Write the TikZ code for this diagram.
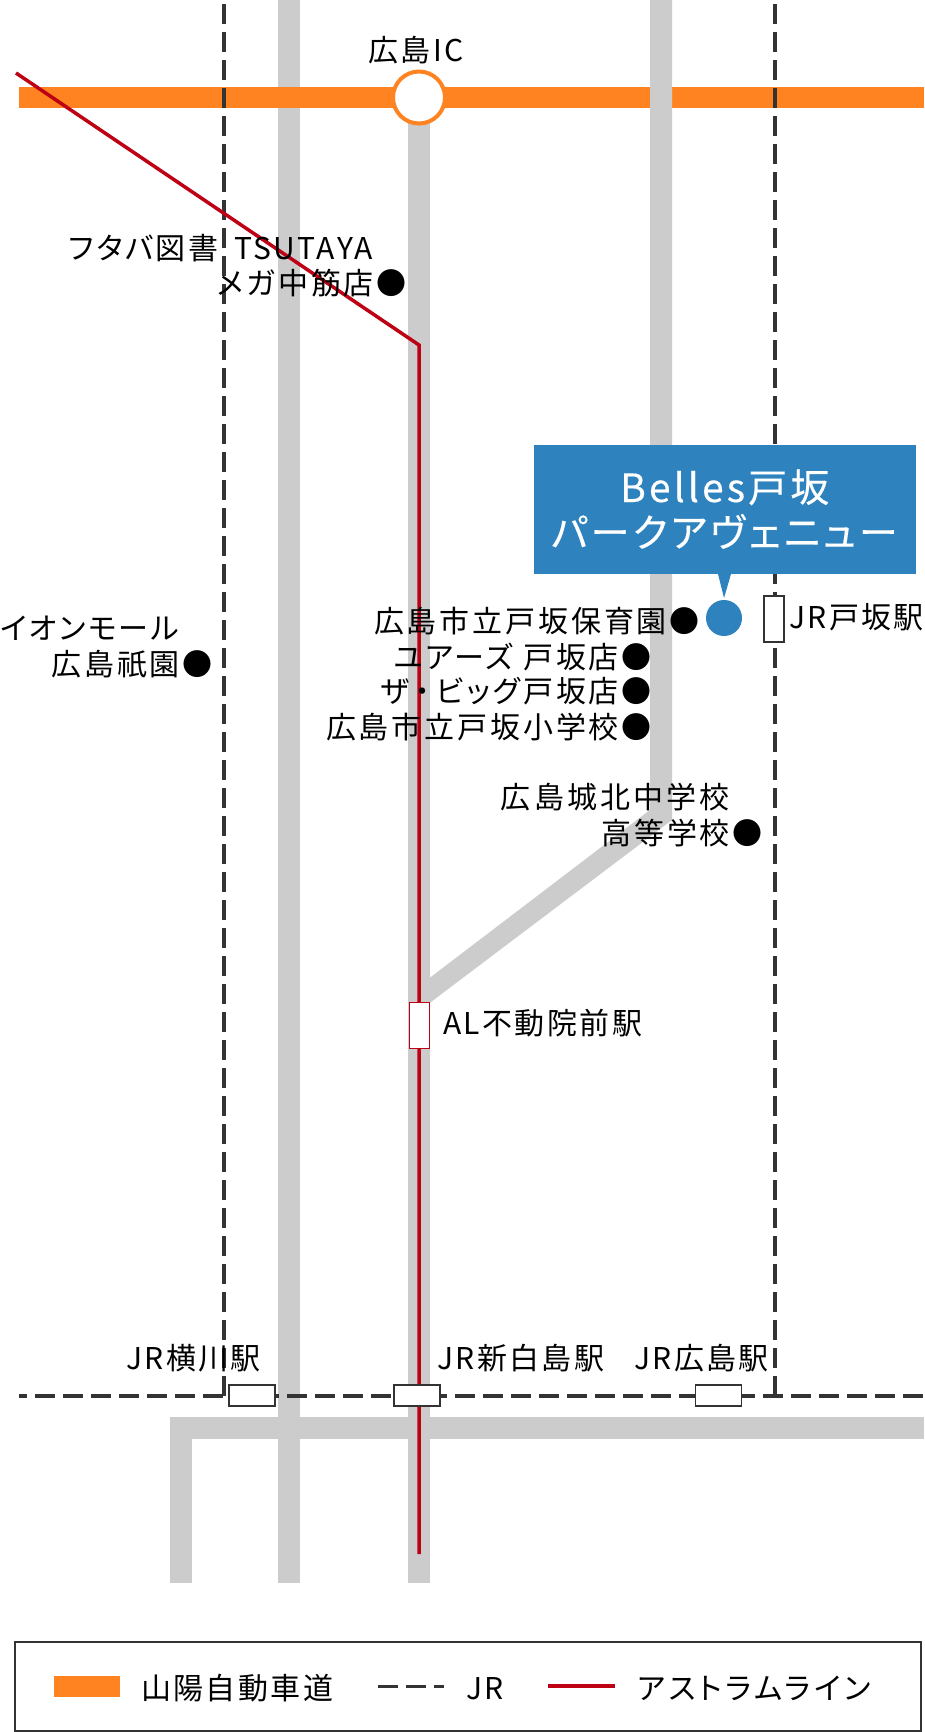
\documentclass[tikz,border=0pt]{standalone}
\usepackage{fontspec}
\setmainfont{Noto Sans CJK JP}
\newfontfamily\jp[LetterSpace=8,RawFeature=+palt]{Noto Sans CJK JP}
\newfontfamily\jpw[LetterSpace=9.5,RawFeature=+palt]{Noto Sans CJK JP}
\newfontfamily\jpv[LetterSpace=10.5,RawFeature=+palt]{Noto Sans CJK JP}
\newfontfamily\jpx[LetterSpace=12,RawFeature=+palt]{Noto Sans CJK JP}
\newfontfamily\jpb[LetterSpace=8,RawFeature=+palt,FakeBold=0.3]{Noto Sans CJK JP}
\definecolor{roadgrey}{HTML}{CCCCCC}
\definecolor{expy}{HTML}{FF8421}
\definecolor{astram}{HTML}{BE0015}
\definecolor{jrline}{HTML}{333333}
\definecolor{bluebox}{HTML}{2E82BE}
\tikzset{
  road/.style={draw=roadgrey,line width=22pt},
  jr/.style={draw=jrline,line width=3.2pt,dash pattern=on 20pt off 8pt,dash phase=24pt},
  jrh/.style={draw=jrline,line width=4.5pt,dash pattern=on 20pt off 8pt,dash phase=12pt},
  redline/.style={draw=astram,line width=3.5pt,line join=miter},
  lab/.style={inner sep=0pt,font=\jp\fontsize{30}{30}\selectfont,text=black},
  rlab/.style={lab,anchor=base east,font=\jpw\fontsize{30}{30}\selectfont},
  llab/.style={lab,anchor=base west},
  boxlab/.style={llab,text=white,font=\jpb\fontsize{39}{39}\selectfont},
  st/.style={draw=jrline,line width=1.2pt,fill=white,inner sep=0pt,minimum width=46pt,minimum height=21pt},
}
\begin{document}
\begin{tikzpicture}[x=1pt,y=-1pt]
\useasboundingbox (0,0) rectangle (924,1732);
% coordinates
\coordinate (v1t) at (289,0); \coordinate (v1b) at (289,1583);
\coordinate (v2t) at (419,97); \coordinate (v2b) at (419,1583);
\coordinate (hl) at (181,1583); \coordinate (hc) at (181,1427.5); \coordinate (hr) at (924,1427.5);
% grey under motorway
\draw[road] (v1t) -- (v1b);
\draw[road] (v2t) -- (v2b);
\draw[road,line join=miter] (hl) -- (hc) -- (hr);
% motorway
\coordinate (mw1) at (19,97.5); \coordinate (mw2) at (924,97.5);
\draw[draw=expy,line width=21pt] (mw1) -- (mw2);
% road over motorway, with its branch
\fill[roadgrey] (650,0) -- (672,0) -- (672,820) -- (419,1011) -- (419,986) -- (650,810) -- cycle;
% JR lines
\coordinate (j1t) at (224,0); \coordinate (j1b) at (224,1396);
\coordinate (j2t) at (775,0); \coordinate (j2b) at (775,1396);
\coordinate (jl) at (19,1396); \coordinate (jr) at (924,1396);
\draw[jr] (j1t) -- (j1b);
\draw[jr] (j2t) -- (j2b);
\draw[jrh] (jl) -- (jr);
% Astram
\coordinate (a1) at (16,73); \coordinate (a2) at (419,345); \coordinate (a3) at (419,1554);
\draw[redline] (a1) -- (a2) -- (a3);
% IC
\node[circle,draw=expy,line width=4pt,fill=white,minimum size=52pt,inner sep=0pt] (ic) at (419,97.5) {};
% stations
\node[st] (s1) at (252,1395.5) {};
\node[st] (s2) at (417,1395.5) {};
\node[st] (s3) at (718.5,1395.5) {};
\node[st,minimum width=20pt,minimum height=46pt] (s4) at (774,619) {};
\node[st,draw=astram,minimum width=20pt,minimum height=46pt] (s5) at (419.5,1025.5) {};
% blue callout
\node[fill=bluebox,inner sep=0pt,minimum width=382pt,minimum height=129pt] (bx) at (725,509.5) {};
\node[circle,fill=bluebox,inner sep=0pt,minimum size=36pt] (pin) at (724,618) {};
\coordinate (p1) at (718,574); \coordinate (p2) at (731,574); \coordinate (p3) at (724,598);
\fill[bluebox] (p1) -- (p2) -- (p3) -- cycle;
\node[boxlab] (b1) at (620,502) {Belles戸坂};
\node[boxlab] (b2) at (551,547) {パークアヴェニュー};
% labels
\node[lab,anchor=base] (ict) at (416,61) {広島IC};
\node[llab] (t1) at (69,259) {フタバ図書\hspace{7pt} TSUTAYA};
\node[rlab] (t2) at (407,294) {メガ中筋店●};
\node[rlab] (t3) at (700,632) {広島市立戸坂保育園●};
\node[rlab] (t4) at (652,668) {ユアーズ 戸坂店●};
\node[rlab] (t5) at (652,702) {ザ\hspace{6pt}・\hspace{6pt}ビッグ戸坂店●};
\node[rlab] (t6) at (652,738) {広島市立戸坂小学校●};
\node[rlab,font=\jpv\fontsize{30}{30}\selectfont] (t7) at (730,808) {広島城北中学校};
\node[rlab] (t8) at (763,844) {高等学校●};
\node[llab] (t9) at (789,628) {JR戸坂駅};
\node[llab] (t10) at (0,639) {イオンモール};
\node[rlab] (t11) at (213,675) {広島祇園●};
\node[llab] (t12) at (443,1034) {AL不動院前駅};
\node[llab] (t13) at (126,1369) {JR横川駅};
\node[llab] (t14) at (437,1369) {JR新白島駅};
\node[llab] (t15) at (634,1369) {JR広島駅};
% legend
\node[draw=jrline,line width=1.5pt,inner sep=0pt,minimum width=906pt,minimum height=89pt] (lg) at (468,1686.5) {};
\node[fill=expy,inner sep=0pt,minimum width=66pt,minimum height=21pt] (ls) at (87,1686.5) {};
\node[llab] (l1) at (141,1699) {山陽自動車道};
\coordinate (ld1) at (378,1686); \coordinate (ld2) at (444,1686);
\draw[draw=jrline,line width=3pt,dash pattern=on 20pt off 8pt] (ld1) -- (ld2);
\node[llab] (l2) at (466,1699) {JR};
\coordinate (lr1) at (548,1686); \coordinate (lr2) at (615,1686);
\draw[draw=astram,line width=4.5pt] (lr1) -- (lr2);
\node[llab,font=\jpx\fontsize{30}{30}\selectfont] (l3) at (637,1699) {アストラムライン};
\end{tikzpicture}
\end{document}
